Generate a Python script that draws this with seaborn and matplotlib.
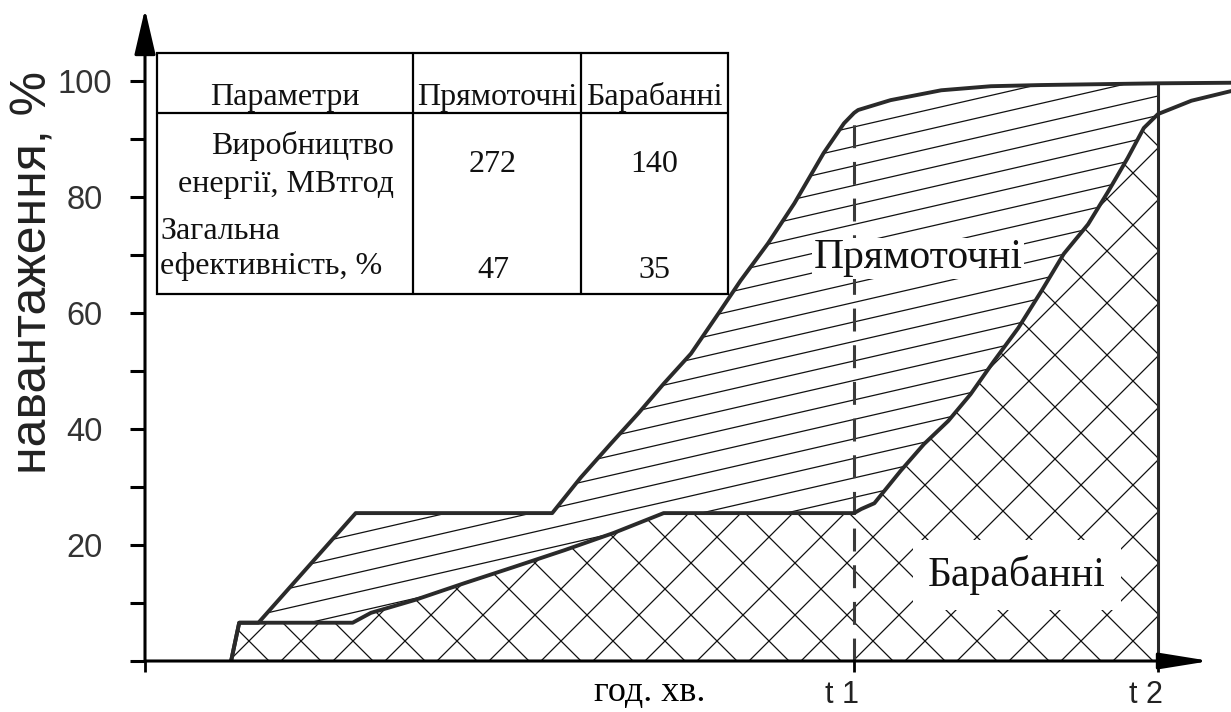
import numpy as np
import matplotlib
matplotlib.use("Agg")
import matplotlib.pyplot as plt
import matplotlib.transforms as mtransforms
from matplotlib.collections import LineCollection
from matplotlib.lines import Line2D
from matplotlib.patches import Rectangle
import seaborn as sns

# ---------------- data ----------------
upper_x = [8.5, 9.3, 11.2, 20.8, 40.2, 43.0, 46.0, 48.7, 51.2, 53.9, 56.6, 58.8, 61.5,
           64.1, 67.0, 69.0, 70.0, 70.4, 73.6, 78.6, 83.5, 88.4, 100.0, 107.3]
upper_y = [0.0, 6.6, 6.6, 25.5, 25.5, 31.6, 37.5, 42.7, 47.8, 53.0, 59.9, 65.6, 72.0,
           78.9, 87.6, 92.7, 94.5, 95.0, 96.7, 98.4, 99.1, 99.3, 99.6, 99.7]
lower_x = [8.5, 9.3, 20.5, 22.3, 26.6, 31.5, 36.4, 41.4, 46.3, 51.2, 70.0, 70.7, 72.0,
           74.6, 76.9, 79.3, 81.5, 83.8, 86.2, 88.5, 90.7, 93.1, 95.1, 97.0, 98.6, 100.0,
           103.3, 107.3]
lower_y = [0.0, 6.6, 6.6, 8.3, 10.5, 13.4, 16.2, 19.1, 22.1, 25.5, 25.5, 26.2, 27.2,
           32.8, 37.4, 41.4, 46.0, 51.7, 57.4, 63.8, 70.2, 75.3, 81.0, 86.7, 91.9, 94.3,
           96.6, 98.3]
t_ticks = [70, 100]
t_labels = ["t 1", "t 2"]
y_major = [20, 40, 60, 80, 100]
y_minor = [10, 30, 50, 70, 90]
x_label = "год. хв."
y_label = "навантаження, %"
region_labels = ["Прямоточні", "Барабанні"]
table_header = ["Параметри", "Прямоточні", "Барабанні"]
table_params = ["Виробництво\nенергії, МВтгод", "Загальна\nефективність, %"]
direct_values = ["272", "47"]
drum_values = ["140", "35"]

# ---------------- style ----------------
sns.set_style("white")
plt.rcParams["font.family"] = ["Liberation Sans", "DejaVu Sans"]
SERIF = ["Liberation Serif", "DejaVu Serif"]

W, H = 1231, 712
X0, Y0 = 145, 661          # pixel position of the origin
PXX, PXY = 10.13, 5.8      # pixels per data unit

fig = plt.figure(figsize=(W / 100, H / 100), dpi=100)
ax = fig.add_axes([X0 / W, (H - Y0) / H, 1 - X0 / W, Y0 / H])
ax.set_xlim(0, (W - X0) / PXX)
ax.set_ylim(0, Y0 / PXY)
for s in ax.spines.values():
    s.set_visible(False)
ax.patch.set_alpha(0)

# ---------------- regions ----------------
t_end = t_ticks[-1]
grid = np.union1d(upper_x, lower_x)
grid = grid[(grid >= upper_x[0]) & (grid <= t_end)]
up = np.interp(grid, upper_x, upper_y)
lo = np.interp(grid, lower_x, lower_y)
poly_up = ax.fill_between(grid, lo, up, facecolor="white", edgecolor="none", zorder=1)
poly_lo = ax.fill_between(grid, 0, lo, facecolor="white", edgecolor="none", zorder=1)


def hatch(slope, cstep, offset=0.0, color="#111111", lw=0.9):
    cs = np.arange(-400, 400, cstep) + offset
    segs = [[(-20, slope * -20 + c), (130, slope * 130 + c)] for c in cs]
    return LineCollection(segs, colors=color, linewidths=lw, zorder=2)


# shallow single hatch for direct-flow region
sl = 0.23 * PXX / PXY
lc1 = hatch(sl, 19.5 / PXY)
ax.add_collection(lc1)
lc1.set_clip_path(poly_up.get_paths()[0], ax.transData)

# 45-degree cross hatch for drum region
s45 = PXX / PXY
for sgn in (1, -1):
    lc = hatch(sgn * s45, 52 / PXX * s45)
    ax.add_collection(lc)
    lc.set_clip_path(poly_lo.get_paths()[0], ax.transData)

# ---------------- curves ----------------
curve_kw = dict(color="#2a2a2a", linewidth=2.8, sort=False, estimator=None,
                solid_joinstyle="round", solid_capstyle="round")
sns.lineplot(x=upper_x, y=upper_y, ax=ax, zorder=4, **curve_kw)
sns.lineplot(x=lower_x, y=lower_y, ax=ax, zorder=4, **curve_kw)

# vertical markers t1 (dashed) and t2 (solid)
ax.plot([t_ticks[0]] * 2, [0, np.interp(t_ticks[0], upper_x, upper_y)],
        color="#3a3a3a", lw=2.2, dashes=(7.5, 4.5), zorder=3)
ax.plot([t_ticks[1]] * 2, [0, np.interp(t_ticks[1], upper_x, upper_y)],
        color="#2a2a2a", lw=2.2, zorder=3)

# ---------------- axes with arrows ----------------
ax.annotate("", xy=((1210 - X0) / PXX, 0), xytext=(0, 0), annotation_clip=False,
            arrowprops=dict(arrowstyle="-|>,head_length=3.1,head_width=0.5",
                            mutation_scale=10, lw=2.2, color="black",
                            shrinkA=0, shrinkB=0), zorder=6)
ax.annotate("", xy=(0, (Y0 - 9) / PXY), xytext=(0, 0), annotation_clip=False,
            arrowprops=dict(arrowstyle="-|>,head_length=2.8,head_width=0.65",
                            mutation_scale=10, lw=2.2, color="black",
                            shrinkA=0, shrinkB=0), zorder=6)

ax.set_yticks([0] + y_major, labels=[""] + [str(v) for v in y_major])
ax.set_yticks(y_minor, minor=True)
ax.tick_params(axis="y", which="both", left=True, direction="out", length=10.5,
               width=2.2, color="black", pad=33, labelsize=23.5, labelcolor="#333333")
for lab in ax.get_yticklabels():
    lab.set_horizontalalignment("center")

ax.set_xticks([0] + t_ticks, labels=[""] * (len(t_ticks) + 1))
ax.tick_params(axis="x", bottom=True, direction="out", length=8, width=2.0,
               color="black")

bt = mtransforms.blended_transform_factory(ax.transData, ax.transAxes)
for t, lab in zip(t_ticks, t_labels):
    ax.text(t + 0.5, -0.028, lab, transform=bt, ha="right", va="top",
            fontsize=22, color="#222222")

ax.set_ylabel(y_label, fontsize=36, color="#222222")
ax.yaxis.set_label_coords((57 - X0) / (W - X0), (Y0 - 272) / Y0)
ax.text((650 - X0) / (W - X0), -0.022, x_label, transform=ax.transAxes,
        ha="center", va="top", fontsize=26, family=SERIF, color="black")

# region labels
ax.text((918 - X0) / PXX, (Y0 - 258) / PXY, region_labels[0], ha="center", va="center",
        fontsize=30, family=SERIF, color="#111111", zorder=5,
        bbox=dict(facecolor="white", edgecolor="none", pad=1))
ax.text((1017 - X0) / PXX, (Y0 - 575) / PXY, region_labels[1], ha="center", va="center",
        fontsize=30, family=SERIF, color="#111111", zorder=5,
        bbox=dict(facecolor="white", edgecolor="none", pad=11))

# ---------------- table ----------------
def F(x, y):
    return (x / W, 1 - y / H)


tl, tr, tt, tb = 157, 728, 53, 294
cols = [tl, 413, 581, tr]
hline = 113
x0, y0 = F(tl, tb)
x1, y1 = F(tr, tt)
fig.add_artist(Rectangle((x0, y0), x1 - x0, y1 - y0, transform=fig.transFigure,
                         facecolor="white", edgecolor="black", lw=1.6, zorder=5))
for cx in cols[1:-1]:
    fig.add_artist(Line2D([cx / W] * 2, [y0, y1], transform=fig.transFigure,
                          color="black", lw=1.6, zorder=6))
fig.add_artist(Line2D([x0, x1], [1 - hline / H] * 2, transform=fig.transFigure,
                      color="black", lw=1.6, zorder=6))

tkw = dict(transform=fig.transFigure, fontsize=23, family=SERIF, color="#111111",
           zorder=7)
centers = [(cols[i] + cols[i + 1]) / 2 for i in range(3)]
for cx, txt in zip(centers, table_header):
    fig.text(*F(cx, 97), txt, ha="center", va="center", **tkw)
fig.text(*F(394, 165), table_params[0], ha="right", va="center",
         multialignment="right", linespacing=1.4, **tkw)
fig.text(*F(160, 249), table_params[1], ha="left", va="center",
         multialignment="left", linespacing=1.28, **tkw)
for (cy, dv, bv) in zip([165, 270], direct_values, drum_values):
    fig.text(*F(centers[1] - 4, cy), dv, ha="center", va="center", **tkw)
    fig.text(*F(centers[2], cy), bv, ha="center", va="center", **tkw)

fig.savefig("out.png", dpi=100)
